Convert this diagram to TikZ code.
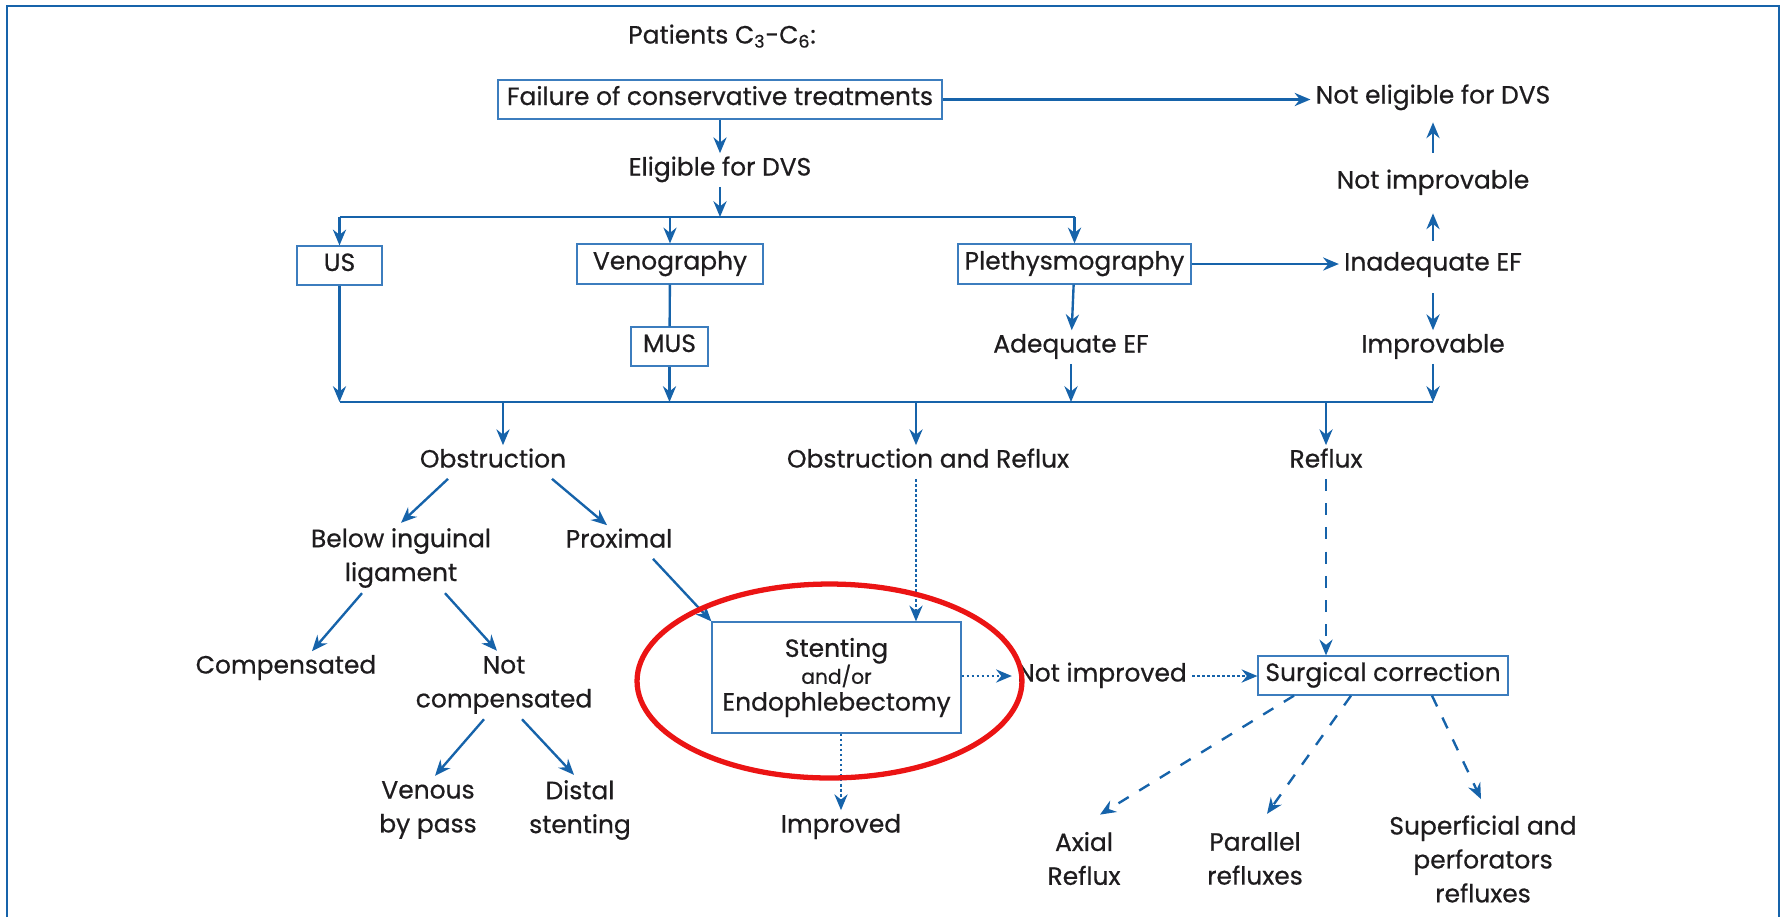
\documentclass[tikz,border=0pt]{standalone}
\usepackage{fontspec}
\setmainfont{Poppins}[FakeBold=0.6]
\usetikzlibrary{arrows.meta,positioning,calc}

\definecolor{dvsblue}{RGB}{22,99,170}
\definecolor{boxblue}{RGB}{60,125,190}
\definecolor{inkgray}{RGB}{30,28,30}
\definecolor{ringred}{RGB}{235,20,20}

\newcommand{\flowfont}{\fontsize{14.2}{19.3}\selectfont}
\newcommand{\smallflow}{\fontsize{11.5}{12}\selectfont}

\begin{document}
\begin{tikzpicture}[x=0.02cm, y=-0.02cm,
    every node/.style={text=inkgray, font=\flowfont},
    lbl/.style={inner xsep=0.1cm, inner ysep=0.1cm, text height=0.34cm, text depth=0.12cm},
    lbls/.style={align=center, inner sep=0.1cm},
    box/.style={draw=boxblue, line width=0.7pt, inner sep=0pt, minimum height=0.78cm,
      text height=0.34cm, text depth=0.12cm},
    link/.style={draw=dvsblue, line width=1.35pt},
    arr/.style={link, -{Stealth[length=9pt, width=7.5pt, inset=3pt]}},
    dotarr/.style={arr, dash pattern=on 1.6pt off 1.25pt},
    dasharr/.style={arr, dash pattern=on 6.8pt off 7pt}]
  \useasboundingbox (0,0) rectangle (1787,917);

  % frame, open at the bottom
  \draw[link, line width=1.4pt] (7,917) -- (7,6) -- (1779,6) -- (1779,917);

  % Top: selection
  \node[lbl] (pat) at (722,38) {Patients C\textsubscript{3}-C\textsubscript{6}:};
  \node[box, minimum width=8.88cm] (fail) at (720,99.5) {Failure of conservative treatments};
  \node[lbl] (notel) at (1433,98) {Not eligible for DVS};
  \node[lbl] (elig) at (720,170) {Eligible for DVS};

  % Diagnostics
  \node[box, minimum width=1.7cm] (us) at (339.5,265.5) {US};
  \node[box, minimum width=3.72cm, minimum height=0.8cm] (veno) at (670,264) {Venography};
  \node[box, minimum width=4.66cm, minimum height=0.8cm] (pleth) at (1074.5,264) {Plethysmography};
  \node[box, minimum width=1.54cm] (mus) at (669.5,346.5) {MUS};
  \node[lbl] (adeq) at (1071,347) {Adequate EF};
  \node[lbl] (inadeq) at (1433,265) {Inadequate EF};
  \node[lbl] (notimp) at (1433,183) {Not improvable};
  \node[lbl] (imp) at (1433,347) {Improvable};

  % Findings
  \node[lbl] (obs) at (493,462) {Obstruction};
  \node[lbl] (obsref) at (928,462) {Obstruction and Reflux};
  \node[lbl] (refl) at (1326,462) {Reflux};
  \node[lbls] (below) at (401,558) {Below inguinal\\ligament};
  \node[lbl] (prox) at (619,542) {Proximal};
  \node[lbl] (comp) at (286,668) {Compensated};
  \node[lbls] (notcomp) at (504,685) {Not\\compensated};
  \node[lbls] (venous) at (428,810) {Venous\\by pass};
  \node[lbls] (distal) at (580,810) {Distal\\stenting};

  % Treatment
  \node[box, align=center, minimum width=4.98cm, minimum height=2.22cm,
    text height=, text depth=] (stent) at (836.5,677.5)
    {Stenting\\[-4pt]{\smallflow and/or}\\[-4pt]Endophlebectomy};
  \node[lbl] (improved) at (841,827) {Improved};
  \node[lbl] (notimpd) at (1102,676) {Not improved};
  \node[box, minimum width=5cm] (surg) at (1383,675.5) {Surgical correction};
  \node[lbls] (axial) at (1084,858.5) {Axial\\Reflux};
  \node[lbls] (parallel) at (1255,858.5) {Parallel\\refluxes};
  \node[lbls] (superf) at (1483,859) {Superficial and\\perforators\\refluxes};

  \coordinate (bus1) at (720,217);
  \coordinate (bus2) at (880,402);
  \coordinate (dObs) at (503,402);
  \coordinate (dMix) at (916,402);
  \coordinate (dRef) at (1326,402);

  % upper connectors
  \draw[arr] (fail) -- (elig);
  \draw[arr] (fail.east) -- (fail.east -| notel.west);
  \draw[arr] (elig) -- (bus1);
  \draw[link] (us |- bus1) -- (pleth |- bus1);
  \draw[arr] (us |- bus1) -- (us);
  \draw[arr] (veno |- bus1) -- (veno);
  \draw[arr] (pleth |- bus1) -- (pleth);
  \draw[link] (veno) -- (mus);
  \draw[arr] (pleth) -- (adeq);
  \draw[arr] (pleth.east) -- (pleth.east -| inadeq.west);
  \draw[arr, shorten <=4.3pt, shorten >=7.7pt] (inadeq) -- (notimp);
  \draw[arr, shorten <=7.7pt, shorten >=4.3pt] (notimp) -- (notel);
  \draw[arr, shorten <=6.5pt] (inadeq) -- (imp);

  % into the lower bus
  \draw[link] (us |- bus2) -- (imp |- bus2);
  \draw[arr] (us) -- (us |- bus2);
  \draw[arr] (mus) -- (mus |- bus2);
  \draw[arr] (adeq) -- (adeq |- bus2);
  \draw[arr] (imp) -- (imp |- bus2);

  % out of the lower bus
  \draw[arr] (dObs) -- (dObs |- obs.north);
  \draw[arr] (dMix) -- (dMix |- obsref.north);
  \draw[arr] (dRef) -- (dRef |- refl.north);

  % obstruction branch
  \draw[arr] ([xshift=-0.9cm]obs.south) -- (below.north);
  \draw[arr] ([xshift=1.18cm]obs.south) -- ([xshift=-0.24cm]prox.north);
  \draw[arr] ([xshift=-0.78cm]below.south) -- ([xshift=0.52cm]comp.north);
  \draw[arr] ([xshift=0.88cm]below.south) -- ([xshift=-0.14cm]notcomp.north);
  \draw[arr] ([xshift=-0.4cm]notcomp.south) -- ([xshift=0.14cm]venous.north);
  \draw[arr] ([xshift=0.36cm]notcomp.south) -- ([xshift=-0.12cm]distal.north);
  \draw[arr] ([xshift=0.68cm]prox.south) -- (stent.north west);

  % stenting
  \draw[dotarr] (dMix |- obsref.south) -- (dMix |- stent.north);
  \draw[dotarr] (stent.south -| improved) -- (improved);
  \draw[dotarr] (stent.east |- notimpd) -- (notimpd.west);
  \draw[dotarr] (notimpd.east) -- (notimpd.east -| surg.west);

  % reflux
  \draw[dasharr] (dRef |- refl.south) -- (dRef |- surg.north);
  \draw[dasharr] ([xshift=-1.78cm]surg.south) -- ([xshift=0.32cm, yshift=0.24cm]axial.north);
  \draw[dasharr] ([xshift=-0.64cm]surg.south) -- ([xshift=0.24cm, yshift=0.26cm]parallel.north);
  \draw[dasharr] ([xshift=0.98cm]surg.south) -- ([xshift=-0.04cm, yshift=0.22cm]superf.north);

  % highlight
  \draw[ringred, line width=3pt] (829.5,681) ellipse [x radius=3.85cm, y radius=1.94cm];
\end{tikzpicture}
\end{document}
